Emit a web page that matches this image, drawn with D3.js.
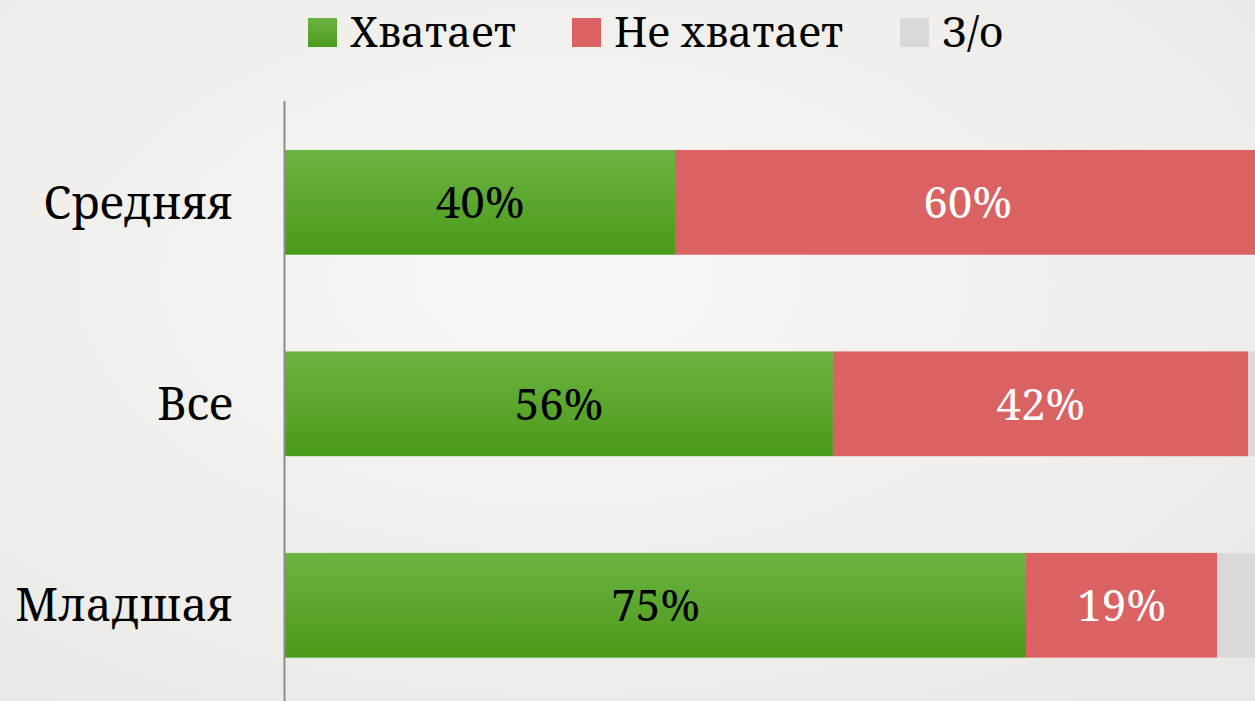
<!DOCTYPE html>
<html>
<head>
<meta charset="utf-8">
<script src="https://cdn.jsdelivr.net/npm/d3@7"></script>
<style>
  html, body { margin: 0; padding: 0; overflow: hidden; }
  svg { display: block; }
</style>
</head>
<body>
<div class="chart"></div>
<script>
const categories = ["Средняя", "Все", "Младшая"];
const seriesNames = ["Хватает", "Не хватает", "З/о"];
const enough = [40, 56.2, 76.0];
const notEnough = [60, 42.6, 19.6];
const noAnswer = [0, 1.2, 4.4];
const enoughLabels = ["40%", "56%", "75%"];
const notEnoughLabels = ["60%", "42%", "19%"];

const width = 1255;
const height = 701;
const font = "'Noto Serif', 'Liberation Serif', serif";

const rows = categories.map((c, i) => ({
  cat: c,
  "Хватает": enough[i],
  "Не хватает": notEnough[i],
  "З/о": noAnswer[i]
}));

const svg = d3.select(".chart")
  .append("svg")
  .attr("width", width)
  .attr("height", height);

const defs = svg.append("defs");
const bg = defs.append("radialGradient")
  .attr("id", "bg")
  .attr("cx", "45%").attr("cy", "40%").attr("r", "75%");
bg.append("stop").attr("offset", "0%").attr("stop-color", "#f8f7f5");
bg.append("stop").attr("offset", "100%").attr("stop-color", "#ebe9e5");

const green = defs.append("linearGradient")
  .attr("id", "green")
  .attr("x1", 0).attr("y1", 0).attr("x2", 0).attr("y2", 1);
green.append("stop").attr("offset", "0%").attr("stop-color", "#6cb441");
green.append("stop").attr("offset", "100%").attr("stop-color", "#4a9a1a");

svg.append("rect")
  .attr("width", width)
  .attr("height", height)
  .attr("fill", "url(#bg)");

const colors = { "Хватает": "url(#green)", "Не хватает": "#da6262", "З/о": "#d9d9d9" };

const xScale = d3.scaleLinear().domain([0, 100]).range([285, 1260]);
const yScale = d3.scaleBand()
  .domain(categories)
  .range([101.6, 706])
  .paddingInner(0.48)
  .paddingOuter(0.24);

const stacked = d3.stack().keys(seriesNames)(rows);

const layers = svg.selectAll(".layer")
  .data(stacked)
  .enter()
  .append("g")
  .attr("class", "layer")
  .attr("fill", d => colors[d.key]);

layers.selectAll("rect")
  .data(d => d)
  .enter()
  .append("rect")
  .attr("x", d => xScale(d[0]))
  .attr("width", d => xScale(d[1]) - xScale(d[0]))
  .attr("y", d => yScale(d.data.cat))
  .attr("height", yScale.bandwidth());

// value labels
const labelSets = [
  { layer: stacked[0], labels: enoughLabels, color: "#000" },
  { layer: stacked[1], labels: notEnoughLabels, color: "#fff" }
];
labelSets.forEach(s => {
  svg.append("g")
    .selectAll("text")
    .data(s.layer)
    .enter()
    .append("text")
    .attr("x", d => (xScale(d[0]) + xScale(d[1])) / 2)
    .attr("y", d => yScale(d.data.cat) + yScale.bandwidth() / 2)
    .attr("dy", "0.36em")
    .attr("text-anchor", "middle")
    .style("font-family", font)
    .style("font-size", "44px")
    .attr("fill", s.color)
    .text((d, i) => s.labels[i]);
});

// category axis
const yAxis = d3.axisLeft(yScale).tickSize(0).tickPadding(51);
const yAxisG = svg.append("g")
  .attr("class", "axis y-axis")
  .attr("transform", "translate(284,0)")
  .call(yAxis);
yAxisG.select(".domain").remove();
yAxisG.selectAll("text")
  .attr("dy", "0.36em")
  .style("font-family", font)
  .style("font-size", "45px")
  .attr("fill", "#000");

svg.append("line")
  .attr("x1", 284.5).attr("x2", 284.5)
  .attr("y1", 101).attr("y2", height)
  .attr("stroke", "#8c8c8c")
  .attr("stroke-width", 2);

// legend
const legendX = [308, 572, 900];
const legend = svg.append("g").attr("class", "legend");
seriesNames.forEach((name, i) => {
  legend.append("rect")
    .attr("x", legendX[i])
    .attr("y", 18)
    .attr("width", 29)
    .attr("height", 29)
    .attr("fill", colors[name]);
  legend.append("text")
    .attr("x", legendX[i] + 42)
    .attr("y", 47)
    .style("font-family", font)
    .style("font-size", "42px")
    .attr("fill", "#000")
    .text(name);
});
</script>
</body>
</html>
